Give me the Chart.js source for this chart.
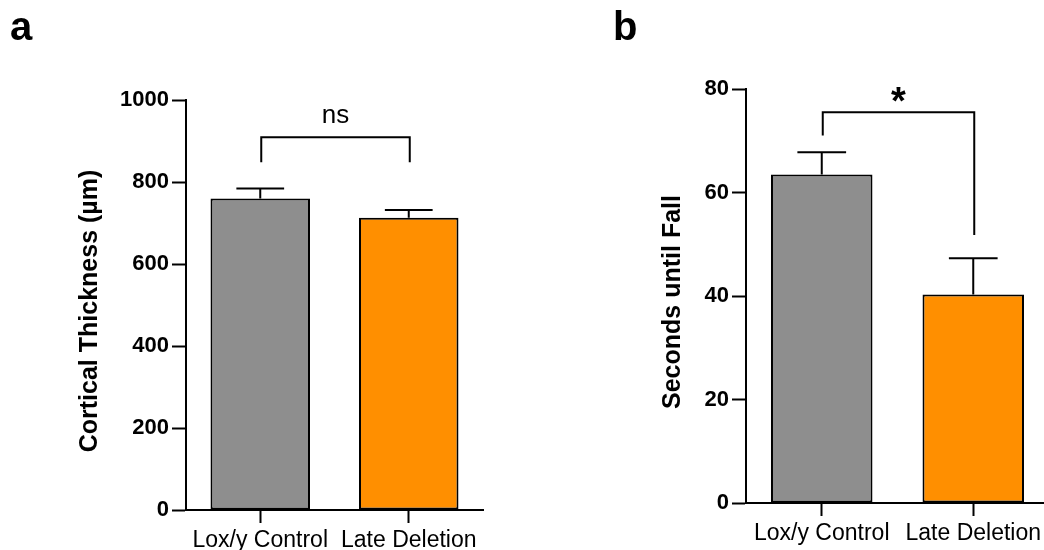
<!DOCTYPE html>
<html>
<head>
<meta charset="utf-8">
<script src="https://cdn.jsdelivr.net/npm/chart.js@4.4.0/dist/chart.umd.min.js"></script>
<style>
html, body { margin: 0; padding: 0; background: #fff; overflow: hidden; }
#wrap { position: relative; width: 1044px; height: 550px; overflow: hidden; }
canvas { position: absolute; top: 0; }
</style>
</head>
<body>
<div id="wrap">
    <canvas id="chartA" width="500" height="550" style="left:0"></canvas>
    <canvas id="chartB" width="490" height="550" style="left:560px"></canvas>
</div>
<script>
const groups = ['Lox/y Control', 'Late Deletion'];
const thicknessMean = [760, 713];
const thicknessSem = [24, 19];
const secondsMean = [63.5, 40.3];
const secondsSem = [4.3, 7.0];
// comparison brackets: [top, left leg end, right leg end] in axis units
const thicknessBracket = [909, 848, 848];
const secondsBracket = [75.5, 71, 51.8];
const barColors = ['#8e8e8e', '#ff8f00'];

const FONT = "'Liberation Sans', Arial, sans-serif";

// error bars, significance bracket, rotated axis title and panel letter
const annotate = {
    id: 'annotate',
    afterDatasetsDraw(chart, args, opts) {
        const ctx = chart.ctx;
        const xs = chart.scales.x, ys = chart.scales.y;
        const meta = chart.getDatasetMeta(0);
        ctx.save();
        ctx.strokeStyle = '#000';
        ctx.lineWidth = 2;
        meta.data.forEach((bar, i) => {
            const top = ys.getPixelForValue(opts.mean[i] + opts.sem[i]);
            const half = bar.width * 0.24;
            ctx.beginPath();
            ctx.moveTo(bar.x, bar.y);
            ctx.lineTo(bar.x, top);
            ctx.moveTo(bar.x - half, top);
            ctx.lineTo(bar.x + half, top);
            ctx.stroke();
        });

        const [bTop, bLeft, bRight] = opts.bracket;
        const x0 = xs.getPixelForValue(0) + 1, x1 = xs.getPixelForValue(1) + 1;
        const yTop = ys.getPixelForValue(bTop);
        ctx.beginPath();
        ctx.moveTo(x0, ys.getPixelForValue(bLeft));
        ctx.lineTo(x0, yTop);
        ctx.lineTo(x1, yTop);
        ctx.lineTo(x1, ys.getPixelForValue(bRight));
        ctx.stroke();

        ctx.fillStyle = '#000';
        ctx.textAlign = 'center';
        ctx.textBaseline = 'alphabetic';
        ctx.font = opts.markFont;
        ctx.fillText(opts.mark, (x0 + x1) / 2, yTop + opts.markShift);

        const area = chart.chartArea;
        ctx.save();
        ctx.translate(opts.titleX, (area.top + area.bottom) / 2 + 6);
        ctx.rotate(-Math.PI / 2);
        ctx.textBaseline = 'middle';
        ctx.font = 'bold 25px ' + FONT;
        ctx.fillText(opts.title, 0, 0);
        ctx.restore();

        ctx.textAlign = 'left';
        ctx.font = 'bold 40px ' + FONT;
        ctx.fillText(opts.letter, opts.letterX, 40);
        ctx.restore();
    }
};

function makeChart(id, means, sems, bracket, yMax, yStep, cfg) {
    return new Chart(document.getElementById(id), {
        type: 'bar',
        data: {
            labels: groups,
            datasets: [{
                data: means,
                backgroundColor: barColors,
                borderColor: '#000',
                borderWidth: 2,
                borderSkipped: false,
                barPercentage: 0.67,
                categoryPercentage: 1
            }]
        },
        plugins: [annotate],
        options: {
            responsive: false,
            animation: false,
            devicePixelRatio: 1,
            layout: {padding: cfg.padding},
            scales: {
                x: {
                    afterFit: scale => { scale.height = cfg.xHeight; },
                    grid: {offset: false, drawOnChartArea: false, drawTicks: true, tickLength: 13, tickColor: '#000', tickWidth: 2},
                    border: {display: true, color: '#000', width: 2},
                    ticks: {color: '#000', padding: 4, font: {family: FONT, size: 23}}
                },
                y: {
                    min: 0,
                    max: yMax,
                    afterFit: scale => { scale.width = 186; },
                    grid: {drawOnChartArea: false, drawTicks: true, tickLength: 14, tickColor: '#000', tickWidth: 2},
                    border: {display: true, color: '#000', width: 2},
                    ticks: {
                        stepSize: yStep, color: '#000', padding: 3,
                        font: {family: FONT, size: 22, weight: 'bold'},
                        callback: v => String(v)
                    }
                }
            },
            plugins: {
                legend: {display: false},
                tooltip: {enabled: false},
                annotate: {
                    mean: means,
                    sem: sems,
                    bracket: bracket,
                    mark: cfg.mark,
                    markFont: cfg.markFont,
                    markShift: cfg.markShift,
                    title: cfg.title,
                    titleX: cfg.titleX,
                    letter: cfg.letter,
                    letterX: cfg.letterX
                }
            }
        }
    });
}

makeChart('chartA', thicknessMean, thicknessSem, thicknessBracket, 1000, 200, {
    padding: {top: 100, left: 0, right: 17, bottom: 0},
    xHeight: 40,
    mark: 'ns', markFont: '26px ' + FONT, markShift: -14,
    title: 'Cortical Thickness (µm)', titleX: 90,
    letter: 'a', letterX: 10
});

makeChart('chartB', secondsMean, secondsSem, secondsBracket, 80, 20, {
    padding: {top: 89, left: 0, right: 1, bottom: 0},
    xHeight: 47,
    mark: '*', markFont: 'bold 38px ' + FONT, markShift: 2,
    title: 'Seconds until Fall', titleX: 113,
    letter: 'b', letterX: 53
});
</script>
</body>
</html>
